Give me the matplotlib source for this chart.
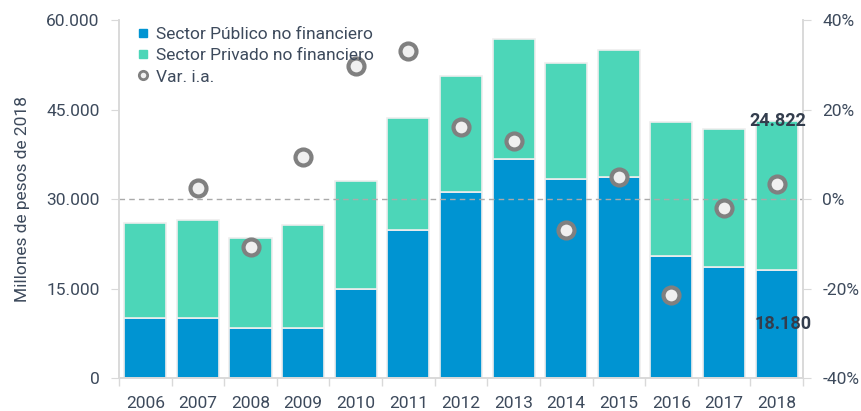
import numpy as np
import matplotlib.pyplot as plt
from matplotlib.lines import Line2D
from matplotlib.ticker import FuncFormatter

plt.rcParams['font.family'] = ['Roboto', 'DejaVu Sans']

# Datos
years = ['2006', '2007', '2008', '2009', '2010', '2011', '2012',
         '2013', '2014', '2015', '2016', '2017', '2018']
publico = [10000, 10000, 8400, 8400, 14900, 24800, 31200,
           36700, 33300, 33700, 20400, 18600, 18180]
privado = [16000, 16500, 15100, 17200, 18100, 18800, 19400,
           20100, 19500, 21300, 22500, 23100, 24822]
var_ia = [np.nan, 2.5, -10.7, 9.4, 29.7, 33.1, 16.1,
          13.0, -6.9, 4.9, -21.5, -2.0, 3.4]

c_pub = '#0094d2'
c_priv = '#4cd6b8'
txt = '#3d4a5c'
grid_c = '#d9d9d9'
fs = 12.5

fig = plt.figure(figsize=(8.61, 4.11), dpi=100)
ax = fig.add_axes([0.1382, 0.0803, 0.7944, 0.871])
ax2 = ax.twinx()

x = np.arange(len(years))
ax.bar(x, publico, width=0.8, color=c_pub, edgecolor='#eeeeee', linewidth=1.2, zorder=2)
ax.bar(x, privado, width=0.8, bottom=publico, color=c_priv, edgecolor='#eeeeee',
       linewidth=1.2, zorder=2)

ax.set_ylim(0, 60000)
ax.set_xlim(-0.5, len(years) - 0.5)
ax.set_yticks([0, 15000, 30000, 45000, 60000])
ax.yaxis.set_major_formatter(FuncFormatter(lambda v, p: f'{int(v):,}'.replace(',', '.')))
ax.set_xticks(x)
ax.set_xticklabels(years)
ax.set_xticks(np.arange(-0.5, len(years)), minor=True)
ax.tick_params(axis='x', which='major', length=0, pad=13, labelsize=fs, labelcolor=txt)
ax.tick_params(axis='x', which='minor', length=6, color=grid_c, width=1)
ax.tick_params(axis='y', length=6, color=grid_c, labelsize=fs, labelcolor=txt, pad=8)
ax.set_ylabel('Millones de pesos de 2018', fontsize=fs, color=txt, labelpad=12)

# Eje derecho
ax2.set_ylim(-40, 40)
ax2.set_yticks([-40, -20, 0, 20, 40])
ax2.yaxis.set_major_formatter(FuncFormatter(lambda v, p: f'{int(v)}%'))
ax2.tick_params(axis='y', length=6, color=grid_c, labelsize=fs, labelcolor=txt, pad=8)
ax2.axhline(0, color='#aaaaaa', linestyle='--', linewidth=1, dashes=(4, 3), zorder=1)
ax2.plot(x, var_ia, linestyle='none', marker='o', markersize=11.5,
         markerfacecolor='#f0f0f0', markeredgecolor='#808080', markeredgewidth=3, zorder=5)

for a in (ax, ax2):
    a.spines['top'].set_visible(False)
    for s in ('left', 'right', 'bottom'):
        a.spines[s].set_color(grid_c)
        a.spines[s].set_linewidth(1.2)

ax.set_zorder(0)
ax2.set_zorder(1)

# Etiquetas 2018
last = len(years) - 1
total = publico[last] + privado[last]
ax2.text(x[last] + 0.02, (total / 60000) * 80 - 40, f'{privado[last]:,}'.replace(',', '.'),
         ha='center', va='center', fontsize=13, fontweight='bold', color='#333d4d', zorder=6)
ax2.text(x[last] + 0.12, (publico[last] / 2 / 60000) * 80 - 40,
         f'{publico[last]:,}'.replace(',', '.'), ha='center', va='center',
         fontsize=13, fontweight='bold', color='#333d4d', zorder=6)

handles = [
    Line2D([], [], linestyle='none', marker='s', markersize=6, color=c_pub),
    Line2D([], [], linestyle='none', marker='s', markersize=6, color=c_priv),
    Line2D([], [], linestyle='none', marker='o', markersize=6, markerfacecolor='#f0f0f0',
           markeredgecolor='#808080', markeredgewidth=2),
]
leg = ax2.legend(handles, ['Sector Público no financiero', 'Sector Privado no financiero', 'Var. i.a.'],
                 loc='upper left', bbox_to_anchor=(0.018, 1.0), frameon=False, fontsize=fs,
                 handlelength=0.6, handletextpad=0.45, labelspacing=0.35, borderaxespad=0)
for t in leg.get_texts():
    t.set_color(txt)

fig.savefig('out.png', dpi=100)
